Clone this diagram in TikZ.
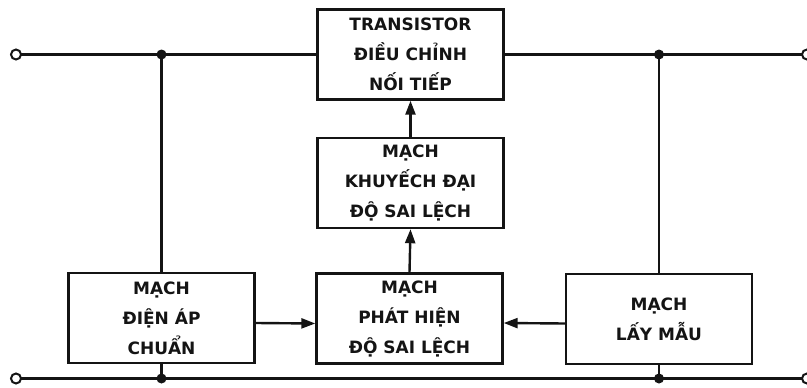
\documentclass[tikz,border=0pt]{standalone}
\usepackage{fontspec}
\setmainfont{DejaVu Sans}
\usepackage{xcolor}
\usepackage{tikz}
\usetikzlibrary{arrows.meta,positioning,calc}
\definecolor{circink}{HTML}{141414}
\tikzstyle{block} = [draw=circink, line width=2.4pt, minimum width=186pt, minimum height=90pt, align=center, inner sep=0pt, font=\bfseries\fontsize{17}{30}\selectfont, text=circink]
\tikzstyle{arrow} = [-{Triangle[length=14pt, width=10pt]}, line width=2.4pt, circink]
\tikzstyle{wire} = [line width=2.4pt, circink]
\tikzstyle{jdot} = [circle, fill=circink, inner sep=0pt, minimum size=10pt]
\tikzstyle{term} = [circle, draw=circink, fill=white, line width=2pt, inner sep=0pt, minimum size=10pt]

\begin{document}
\begin{tikzpicture}[x=1pt, y=-1pt]
\useasboundingbox (0,0) rectangle (807,388);

\node[block] (tran) at (410.5,54.5) {TRANSISTOR\\ĐIỀU CHỈNH\\NỐI TIẾP};
\node[block] (amp) at (410.5,183) {MẠCH\\KHUYẾCH ĐẠI\\ĐỘ SAI LỆCH};
\node[block] (ref) at (161.5,318) {MẠCH\\ĐIỆN ÁP\\CHUẨN};
\node[block] (det) at (409.5,318.5) {MẠCH\\PHÁT HIỆN\\ĐỘ SAI LỆCH};
\node[block] (samp) at (659,319) {MẠCH\\LẤY MẪU};

\coordinate (inTop) at (16,54.5);
\coordinate (outTop) at (807,54.5);
\coordinate (inBot) at (16,378.5);
\coordinate (outBot) at (807,378.5);
\coordinate (jTL) at (ref.north |- inTop);
\coordinate (jTR) at (samp.north |- inTop);
\coordinate (jBL) at (ref.south |- inBot);
\coordinate (jBR) at (samp.south |- inBot);

\draw[wire] (inTop) -- (tran.west);
\draw[wire] (tran.east) -- (outTop);
\draw[wire] (inBot) -- (outBot);
\draw[wire] (jTL) -- (ref.north);
\draw[wire] (ref.south) -- (jBL);
\draw[wire] (jTR) -- (samp.north);
\draw[wire] (samp.south) -- (jBR);

\draw[arrow] ([yshift=-5pt]ref.east) -- ([yshift=-5pt]det.west);
\draw[arrow] ([yshift=-4.5pt]samp.west) -- ([yshift=-4.5pt]det.east);
\draw[arrow] (det.north) -- (amp.south);
\draw[arrow] (amp.north) -- (tran.south);

\foreach \j in {jTL,jTR,jBL,jBR}{
  \node[jdot] (d\j) at (\j) {};
}
\foreach \t in {inTop,outTop,inBot,outBot}{
  \node[term] (t\t) at (\t) {};
}
\end{tikzpicture}
\end{document}
